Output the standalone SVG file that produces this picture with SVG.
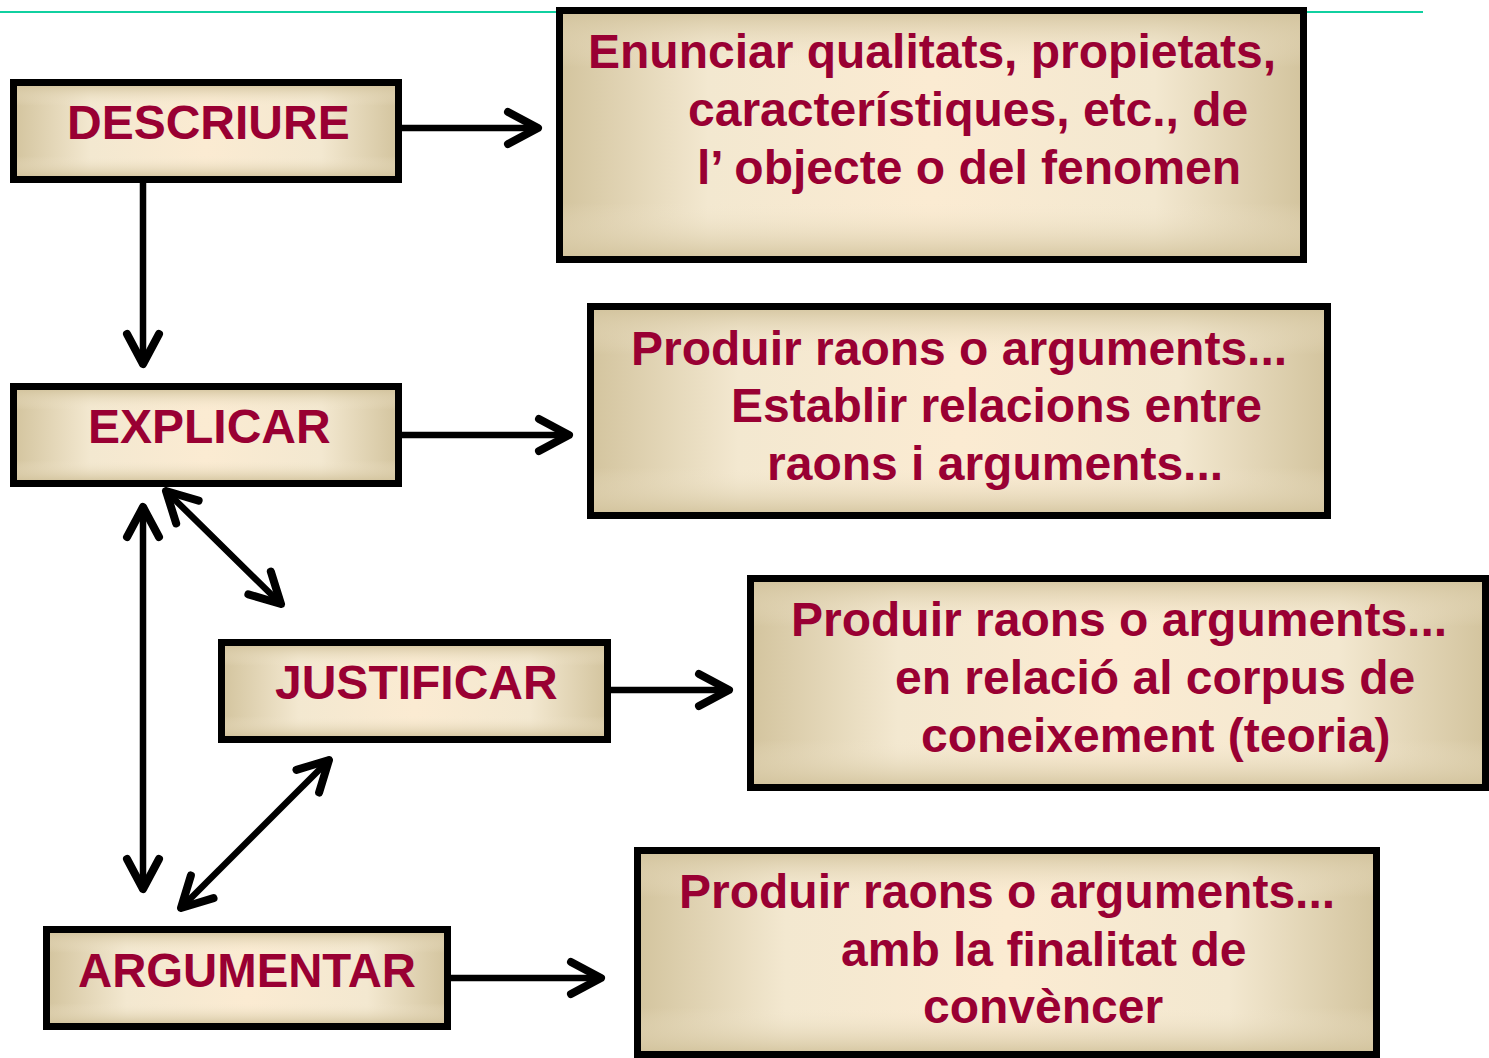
<svg xmlns="http://www.w3.org/2000/svg" width="1489" height="1058" viewBox="0 0 1489 1058">
<style>
.bx{stroke:#000;stroke-width:7;fill:url(#gh)}
.ov{fill:url(#gv);stroke:none}
.t{font-family:"Liberation Sans",Arial,sans-serif;font-weight:bold;font-size:48px;fill:#990033}
.c{stroke:#000;stroke-width:6.5;fill:none;stroke-linecap:round}
</style>
<defs>
<linearGradient id="gh" x1="0" y1="0" x2="1" y2="0">
<stop offset="0" stop-color="#D3C49E"/>
<stop offset="0.2" stop-color="#F3E8D0"/>
<stop offset="0.5" stop-color="#FBEBD2"/>
<stop offset="0.8" stop-color="#F3E8D0"/>
<stop offset="1" stop-color="#D3C49E"/>
</linearGradient>
<linearGradient id="gv" x1="0" y1="0" x2="0" y2="1">
<stop offset="0" stop-color="#D3C49E" stop-opacity="0.85"/>
<stop offset="0.22" stop-color="#F3E8D0" stop-opacity="0"/>
<stop offset="0.78" stop-color="#F3E8D0" stop-opacity="0"/>
<stop offset="1" stop-color="#D3C49E" stop-opacity="0.85"/>
</linearGradient>
<marker id="ah" markerUnits="userSpaceOnUse" viewBox="-40 -25 50 50" refX="0" refY="0" markerWidth="50" markerHeight="50" orient="auto-start-reverse" overflow="visible">
<path d="M-30,-16 L0,0 L-30,16" fill="none" stroke="#000" stroke-width="8" stroke-linecap="round" stroke-linejoin="round"/>
</marker>
</defs>
<rect width="1489" height="1058" fill="#fff"/>
<line x1="0" y1="12" x2="1423" y2="12" stroke="#10D0A0" stroke-width="2"/>

<g id="connectors">
<line class="c" x1="402" y1="128" x2="538" y2="128" marker-end="url(#ah)"/>
<line class="c" x1="143" y1="183" x2="143" y2="364" marker-end="url(#ah)"/>
<line class="c" x1="402" y1="435" x2="569" y2="435" marker-end="url(#ah)"/>
<line class="c" x1="166" y1="491" x2="281" y2="604" marker-start="url(#ah)" marker-end="url(#ah)"/>
<line class="c" x1="143" y1="507" x2="143" y2="889" marker-start="url(#ah)" marker-end="url(#ah)"/>
<line class="c" x1="329" y1="760" x2="181" y2="908" marker-start="url(#ah)" marker-end="url(#ah)"/>
<line class="c" x1="611" y1="690" x2="729" y2="690" marker-end="url(#ah)"/>
<line class="c" x1="451" y1="978" x2="601" y2="978" marker-end="url(#ah)"/>
</g>

<g id="descriure">
<rect class="bx" x="13.5" y="82.5" width="385" height="97"/>
<rect class="ov" x="17" y="86" width="378" height="90"/>
<text class="t" x="67" y="139">DESCRIURE</text>
</g>
<g id="desc-box">
<rect class="bx" x="559.5" y="10.5" width="744" height="249"/>
<rect class="ov" x="563" y="14" width="737" height="242"/>
<text class="t" x="588" y="68">Enunciar qualitats, propietats,</text>
<text class="t" x="688" y="126">característiques, etc., de</text>
<text class="t" x="697" y="184">l’ objecte o del fenomen</text>
</g>

<g id="explicar">
<rect class="bx" x="13.5" y="386.5" width="385" height="97"/>
<rect class="ov" x="17" y="390" width="378" height="90"/>
<text class="t" x="88" y="443">EXPLICAR</text>
</g>
<g id="expl-box">
<rect class="bx" x="590.5" y="306.5" width="737" height="209"/>
<rect class="ov" x="594" y="310" width="730" height="202"/>
<text class="t" x="631" y="365">Produir raons o arguments...</text>
<text class="t" x="731" y="422">Establir relacions entre</text>
<text class="t" x="767" y="480">raons i arguments...</text>
</g>

<g id="justificar">
<rect class="bx" x="221.5" y="642.5" width="386" height="97"/>
<rect class="ov" x="225" y="646" width="379" height="90"/>
<text class="t" x="275" y="699">JUSTIFICAR</text>
</g>
<g id="just-box">
<rect class="bx" x="750.5" y="578.5" width="735" height="209"/>
<rect class="ov" x="754" y="582" width="728" height="202"/>
<text class="t" x="791" y="636">Produir raons o arguments...</text>
<text class="t" x="895" y="694">en relació al corpus de</text>
<text class="t" x="921" y="752">coneixement (teoria)</text>
</g>

<g id="argumentar">
<rect class="bx" x="46.5" y="929.5" width="401" height="97"/>
<rect class="ov" x="50" y="933" width="394" height="90"/>
<text class="t" x="78" y="987" textLength="338" lengthAdjust="spacingAndGlyphs">ARGUMENTAR</text>
</g>
<g id="arg-box">
<rect class="bx" x="637.5" y="850.5" width="739" height="204"/>
<rect class="ov" x="641" y="854" width="732" height="197"/>
<text class="t" x="679" y="908">Produir raons o arguments...</text>
<text class="t" x="841" y="966">amb la finalitat de</text>
<text class="t" x="923" y="1023">convèncer</text>
</g>
</svg>
